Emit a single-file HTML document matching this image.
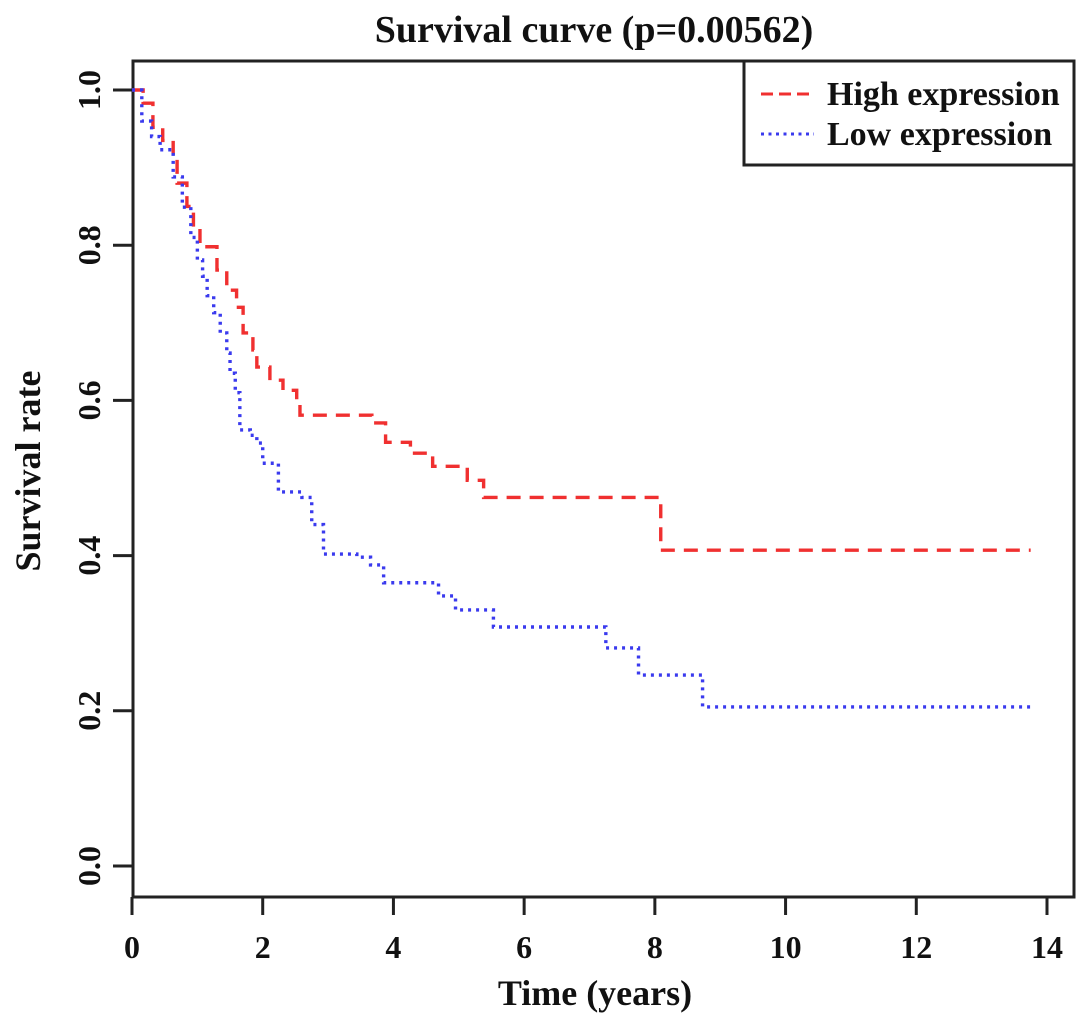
<!DOCTYPE html>
<html><head><meta charset="utf-8"><style>
html,body{margin:0;padding:0;background:#fff;}
svg text{font-family:"Liberation Serif",serif;font-weight:bold;fill:#111;}
</style></head><body>
<svg id="chart" width="1087" height="1022" viewBox="0 0 1087 1022" xmlns="http://www.w3.org/2000/svg">
<text x="594" y="42" font-size="38" text-anchor="middle">Survival curve (p=0.00562)</text>
<rect x="133" y="61" width="941" height="836" fill="none" stroke="#222" stroke-width="3"/>
<g id="xaxis"></g>
<g id="yaxis"></g>
<text x="595" y="1005" font-size="36" text-anchor="middle">Time (years)</text>
<text transform="translate(40,471) rotate(-90)" font-size="36" text-anchor="middle">Survival rate</text>
<g id="series"></g>
<g>
<rect x="744" y="61" width="330" height="104" fill="#fff" stroke="#222" stroke-width="3"/>
<line x1="761" y1="94" x2="812" y2="94" stroke="#f03030" stroke-width="3" stroke-dasharray="12 6"/>
<text x="827" y="105" font-size="34">High expression</text>
<line x1="761" y1="134" x2="814" y2="134" stroke="#3a3aee" stroke-width="3" stroke-dasharray="3 4.5"/>
<text x="827" y="145" font-size="34">Low expression</text>
</g>
</svg>
<script>
const xTicks=[0,2,4,6,8,10,12,14];
const yTicks=[0.0,0.2,0.4,0.6,0.8,1.0];
const yTickLabels=["0.0","0.2","0.4","0.6","0.8","1.0"];
const highTimes=[0,0.17,0.32,0.47,0.63,0.69,0.84,0.94,1.04,1.3,1.45,1.6,1.7,1.85,1.91,2.11,2.31,2.52,2.57,3.67,3.88,4.26,4.6,5.13,5.38,8.09,13.75];
const highSurv=[1,0.983,0.952,0.935,0.91,0.88,0.85,0.823,0.798,0.768,0.742,0.72,0.687,0.665,0.643,0.626,0.613,0.597,0.581,0.571,0.546,0.532,0.515,0.497,0.475,0.407,0.407];
const lowTimes=[0,0.15,0.3,0.43,0.63,0.77,0.9,1.0,1.08,1.15,1.25,1.35,1.45,1.5,1.58,1.65,1.81,1.91,2.0,2.24,2.6,2.75,2.93,3.44,3.65,3.85,4.69,4.95,5.53,7.25,7.75,8.73,13.75];
const lowSurv=[1,0.96,0.94,0.923,0.888,0.849,0.81,0.781,0.76,0.735,0.713,0.687,0.661,0.635,0.61,0.562,0.555,0.545,0.519,0.482,0.475,0.44,0.402,0.398,0.388,0.365,0.348,0.33,0.308,0.281,0.246,0.205,0.205];
const X=t=>132+t*(1047-132)/14;
const Y=v=>866-v*(866-90);
const NS="http://www.w3.org/2000/svg";
function mk(tag,attrs,parent){const e=document.createElementNS(NS,tag);for(const k in attrs)e.setAttribute(k,attrs[k]);parent.appendChild(e);return e;}
const xa=document.getElementById('xaxis'),ya=document.getElementById('yaxis'),sg=document.getElementById('series');
xTicks.forEach(t=>{
 const l=mk('line',{x1:X(t),x2:X(t),y1:897,y2:915,stroke:'#222','stroke-width':3},xa);
 
 
 const tx=mk('text',{x:X(t),y:958,'font-size':32,'text-anchor':'middle'},xa);
 tx.textContent=String(t);
 
 
});
yTicks.forEach((v,i)=>{
 const l=mk('line',{x1:113,x2:133,y1:Y(v),y2:Y(v),stroke:'#222','stroke-width':3},ya);
 
 
 const tx=mk('text',{transform:`translate(100,${Y(v)}) rotate(-90)`,'font-size':32,'text-anchor':'middle'},ya);
 tx.textContent=yTickLabels[i];
 
 
});
function stepPath(ts,vs){let d=`M${X(ts[0])},${Y(vs[0])}`;for(let i=1;i<ts.length;i++){d+=`H${X(ts[i])}V${Y(vs[i])}`;}return d;}
const hp=mk('path',{d:stepPath(highTimes,highSurv),fill:'none',stroke:'#f03030','stroke-width':3.4,'stroke-dasharray':'14 9'},sg);


const lp=mk('path',{d:stepPath(lowTimes,lowSurv),fill:'none',stroke:'#3a3aee','stroke-width':3.4,'stroke-dasharray':'3 5'},sg);


</script>
</body></html>
